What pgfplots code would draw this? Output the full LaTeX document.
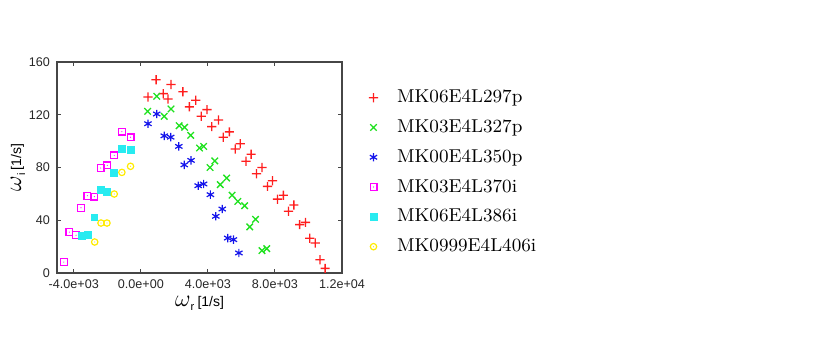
\documentclass[border=0pt]{standalone}
\usepackage{fontspec}
\setsansfont{Liberation Sans}
\usepackage{graphicx}
\usepackage{pgfplots}
\usepackage{pgfplotstable}
\pgfplotsset{compat=1.18}

\definecolor{cR}{RGB}{255,30,30}
\definecolor{cG}{RGB}{30,225,30}
\definecolor{cB}{RGB}{20,20,235}
\definecolor{cM}{RGB}{255,0,255}
\definecolor{cC}{RGB}{40,235,240}
\definecolor{cY}{RGB}{255,235,0}
\definecolor{axgray}{RGB}{70,70,70}

% gnuplot-like marks with a dot in the middle
\pgfdeclareplotmark{dsquare}{%
  \pgfpathrectangle{\pgfpoint{-\pgfplotmarksize}{-\pgfplotmarksize}}%
    {\pgfpoint{2\pgfplotmarksize}{2\pgfplotmarksize}}%
  \pgfusepathqstroke
  \pgfpathcircle{\pgfpointorigin}{0.3pt}\pgfusepathqfill}
\pgfdeclareplotmark{dcircle}{%
  \pgfpathcircle{\pgfpointorigin}{\pgfplotmarksize}\pgfusepathqstroke
  \pgfpathcircle{\pgfpointorigin}{0.3pt}\pgfusepathqfill}
% plus sign built from two filled bars
\pgfdeclareplotmark{fplus}{%
  \pgfpathrectangle{\pgfpoint{-\pgfplotmarksize}{-0.33pt}}{\pgfpoint{2\pgfplotmarksize}{0.66pt}}%
  \pgfpathrectangle{\pgfpoint{-0.33pt}{-\pgfplotmarksize}}{\pgfpoint{0.66pt}{2\pgfplotmarksize}}%
  \pgfusepathqfill}

\pgfplotstableread{
x y
911 146.6
425 133.5
1336 136
1802 143
1619 132
2510 137.5
2895 126
3279 131
3603 118.8
3947 123.9
4231 111
4636 116
4919 103
5283 107
5628 94
5931 98
6275 84.7
6579 90
6903 75.3
7227 80
7551 65.7
7854 70
8158 56
8502 59
8806 46.8
9130 51.6
9474 36.7
9818 38.4
10081 26.3
10405 22.7
10688 10.1
10992 3.5
}\tabA

\pgfplotstableread{
x y
405 122.6
951 134
1397 118.8
1802 124.4
2287 111.7
2611 110.5
2976 104.4
3502 94.8
3745 96
4130 80
4413 85
4737 67
5121 72
5445 59
5789 54.3
6194 51
6498 35
6842 40.7
7227 17
7510 18.5
}\tabB

\pgfplotstableread{
x y
425 113.2
951 120.6
1397 104
1781 103
2267 96
2591 82
2996 85.4
3421 66.2
3745 67.5
4150 59.4
4474 43
4858 48.5
5182 26.5
5526 25.3
5850 15.2
}\tabC

\pgfplotstableread{
x y
-4594 8.3
-4257 31
-3861 28.6
-3564 49.5
-3188 58.6
-2772 57.9
-2396 79.6
-2000 81.6
-1584 89.2
-1129 107.2
-614 102.9
}\tabD

\pgfplotstableread{
x y
-3505 28.3
-3149 29
-2772 42.2
-2376 63.2
-2020 61.4
-1584 75.8
-1129 94.3
-614 93.5
}\tabE

\pgfplotstableread{
x y
-2752 23.5
-2376 37.9
-2020 37.9
-1584 59.9
-1129 76.3
-614 80.9
}\tabF

\begin{document}
\begin{tikzpicture}
\useasboundingbox (0,0) rectangle (415pt,174.5pt);
\begin{axis}[
    at={(28.5pt,38pt)}, anchor=south west,
    scale only axis,
    width=142.5pt, height=105.5pt,
    xmin=-5000, xmax=12000,
    ymin=0, ymax=160,
    scaled x ticks=false,
    xtick={-4000,0,4000,8000,12000},
    xticklabels={-4.0e+03,0.0e+00,4.0e+03,8.0e+03,1.2e+04},
    ytick={0,40,80,120,160},
    /pgf/number format/assume math mode=true,
    tick label style={font=\sffamily\fontsize{6.3}{7}\selectfont, text=black!85},
    tick align=inside,
    major tick length=2pt,
    axis line style={axgray, line width=0.6pt},
    every tick/.style={axgray, line width=0.5pt},
    xlabel={{\fontsize{13}{13}\selectfont$\omega$}\raisebox{-2pt}{\sffamily\fontsize{5.5}{6}\selectfont r}\,{\sffamily\fontsize{7}{8}\selectfont[1/s]}},
    ylabel={{\fontsize{13}{13}\selectfont$\omega$}\raisebox{-2pt}{\sffamily\fontsize{5.5}{6}\selectfont i}\,{\sffamily\fontsize{7}{8}\selectfont[1/s]}},
    xlabel style={at={(axis description cs:0.5,-0.145)}, anchor=center, inner sep=0pt},
    ylabel style={at={(axis description cs:-0.137,0.5)}, anchor=center, inner sep=0pt},
    legend style={at={(axis description cs:1.093,0.885)}, anchor=north west,
        draw=none, fill=none, inner sep=0pt,
        font=\fontsize{9.3}{11}\selectfont, row sep=3.9pt, column sep=8.5pt,
        nodes={inner sep=1pt, text height=7pt, text depth=2pt}},
    legend cell align=left,
]
\addplot[only marks, mark=fplus, mark size=2.3pt, cR, mark options={fill=cR, draw=none}] table {\tabA};
\addplot[only marks, mark=x, mark size=2.3pt, cG, mark options={draw=cG, line width=0.65pt}] table {\tabB};
\addplot[only marks, mark=asterisk, mark size=2.1pt, cB, mark options={draw=cB, line width=0.6pt}] table {\tabC};
\addplot[only marks, mark=dsquare, mark size=1.7pt, cM, mark options={line width=0.6pt}] table {\tabD};
\addplot[only marks, mark=square*, mark size=1.7pt, cC] table {\tabE};
\addplot[only marks, mark=dcircle, mark size=1.6pt, cY, mark options={line width=0.6pt}] table {\tabF};
\legend{MK06E4L297p, MK03E4L327p, MK00E4L350p, MK03E4L370i, MK06E4L386i, MK0999E4L406i}
\end{axis}
\end{tikzpicture}
\end{document}
